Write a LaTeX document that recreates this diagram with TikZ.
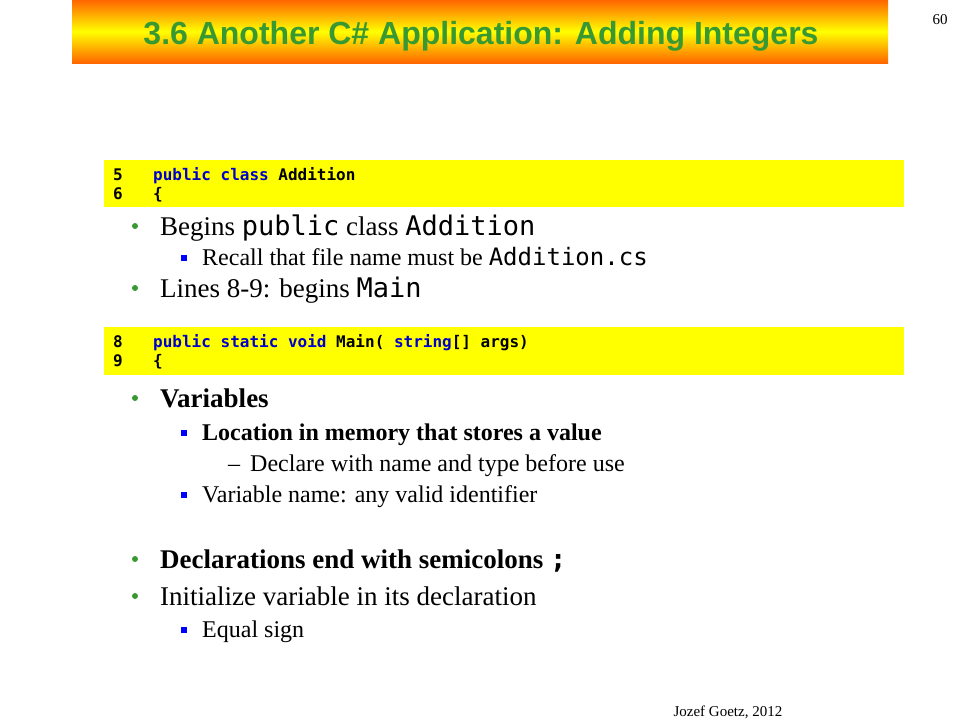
\documentclass[tikz,border=0pt]{standalone}
\usepackage{fontspec}
\setmainfont{Liberation Serif}
\newfontfamily\titlefont{Liberation Sans}
\newfontfamily\codefont{DejaVu Sans Mono}
\definecolor{titlegreen}{RGB}{56,153,51}
\definecolor{banorange}{RGB}{255,102,0}
\definecolor{codeyellow}{RGB}{255,255,0}
\definecolor{keyblue}{RGB}{0,0,204}
\definecolor{squareblue}{RGB}{0,0,255}
\newcommand{\cw}[1]{{\codefont #1}}
\newcommand{\kw}[1]{\textcolor{keyblue}{#1}}
\tikzset{
  item/.style={anchor=base west, inner sep=0pt, font=\fontsize{27}{30}\selectfont},
  subitem/.style={anchor=base west, inner sep=0pt, font=\fontsize{24}{27}\selectfont},
  codeline/.style={anchor=base west, inner sep=0pt, font=\codefont\bfseries\fontsize{16}{18}\selectfont},
  codebox/.style={fill=codeyellow},
  dot/.style={fill=titlegreen},
  square/.style={fill=squareblue},
}
\begin{document}
\begin{tikzpicture}[x=1pt,y=-1pt]
  \useasboundingbox (0,0) rectangle (960,720);

  % Title banner
  \shade[top color=banorange, bottom color=banorange, middle color=codeyellow]
    (72,0) rectangle (888,63);
  \node[anchor=base, font=\titlefont\bfseries\fontsize{32}{35}\selectfont, text=titlegreen]
    (title) at (481,44) {3.6 Another C\# Application: Adding Integers};
  \node[anchor=base, font=\fontsize{15}{17}\selectfont] (pagenum) at (940,24) {60};

  % First code box
  \fill[codebox] (104,160) rectangle (904,207);
  \node[codeline] (n5) at (113,180) {5};
  \node[codeline] (c5) at (153,180) {\kw{public class} Addition};
  \node[codeline] (n6) at (113,199) {6};
  \node[codeline] (c6) at (153,199) {\{};

  % Bullets about the class
  \fill[dot] (135,226) circle (3);
  \node[item] (begins) at (160,235) {Begins \cw{public} class \cw{Addition}};
  \fill[square] (181,255) rectangle (187,261);
  \node[subitem] (recall) at (202,265) {Recall that file name must be \cw{Addition.cs}};
  \fill[dot] (135,288) circle (3);
  \node[item] (lines) at (160,297) {Lines 8-9: begins \cw{Main}};

  % Second code box
  \fill[codebox] (104,327) rectangle (904,375);
  \node[codeline] (n8) at (113,347) {8};
  \node[codeline] (c8) at (153,347) {\kw{public static void} Main( \kw{string}[] args)};
  \node[codeline] (n9) at (113,366) {9};
  \node[codeline] (c9) at (153,366) {\{};

  % Bullets about variables
  \fill[dot] (135,398) circle (3);
  \node[item] (vars) at (160,407) {\textbf{Variables}};
  \fill[square] (181,430) rectangle (187,436);
  \node[subitem] (loc) at (202,440) {\textbf{Location in memory that stores a value}};
  \node[subitem] (dash) at (228,471) {–};
  \node[subitem] (declare) at (250,471) {Declare with name and type before use};
  \fill[square] (181,492) rectangle (187,498);
  \node[subitem] (varname) at (202,502) {Variable name: any valid identifier};

  % Bullets about declarations
  \fill[dot] (135,559) circle (3);
  \node[item] (decl) at (160,568) {\textbf{Declarations end with semicolons \cw{;}}};
  \fill[dot] (135,596) circle (3);
  \node[item] (init) at (160,605) {Initialize variable in its declaration};
  \fill[square] (181,627) rectangle (187,633);
  \node[subitem] (equal) at (202,637) {Equal sign};

  % Footer
  \node[anchor=base west, font=\fontsize{15}{17}\selectfont] (author) at (670,716) {Jozef Goetz, 2012};
\end{tikzpicture}
\end{document}
